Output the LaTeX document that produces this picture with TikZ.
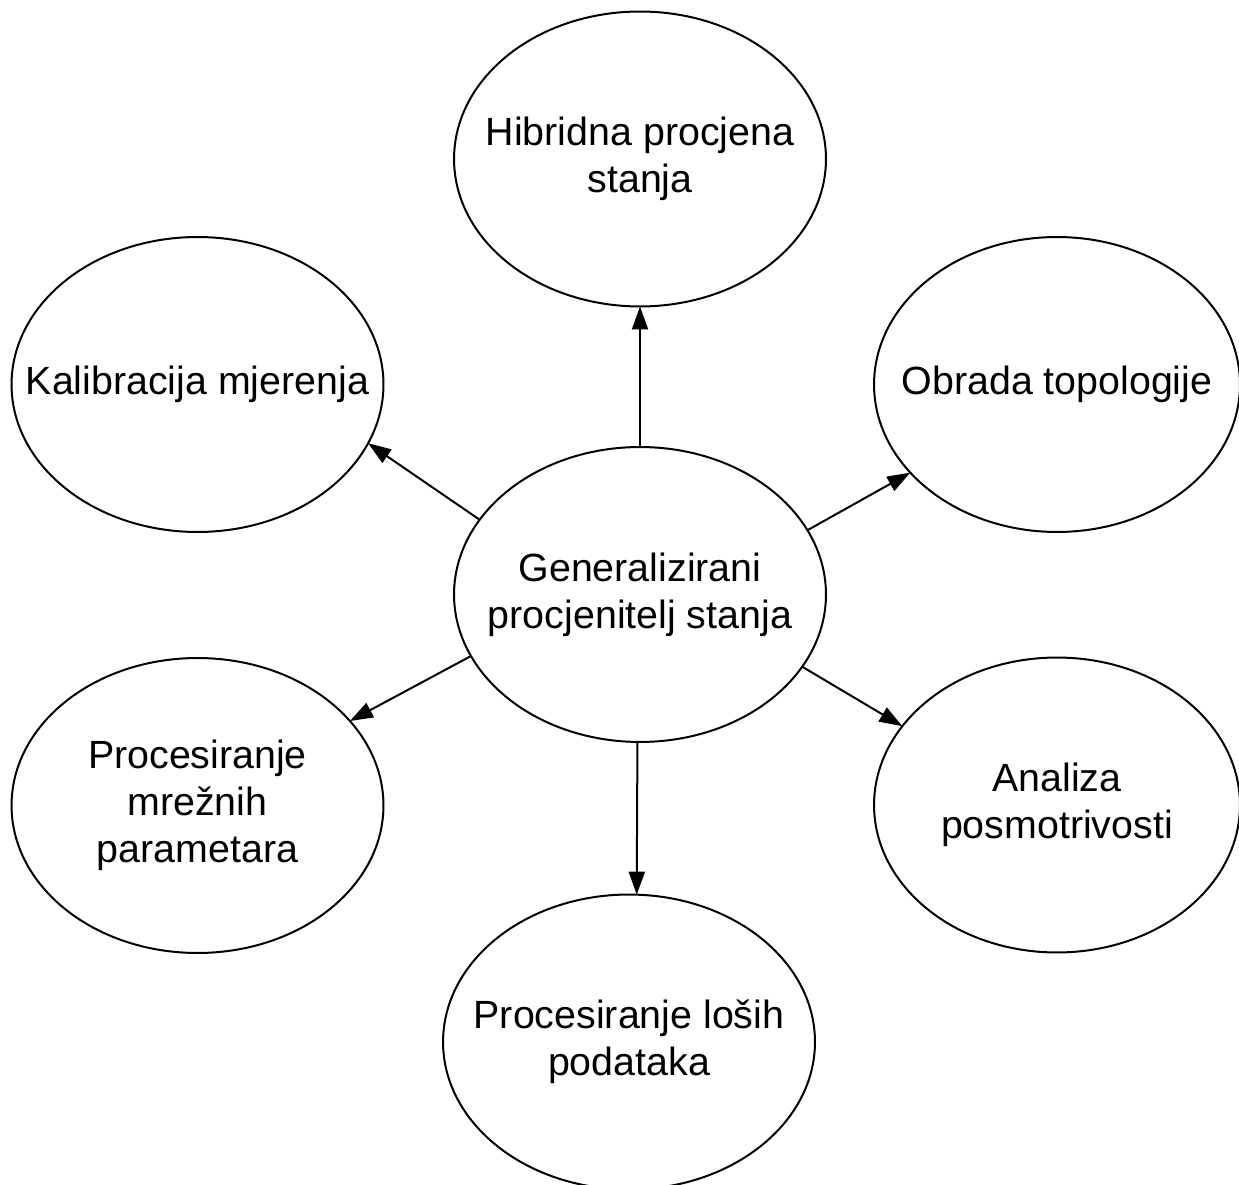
\documentclass[tikz,border=0pt]{standalone}
\usepackage{fontspec}
\setmainfont{Liberation Sans}
\usepackage{tikz}
\usetikzlibrary{arrows.meta,shapes,calc,positioning}
\tikzstyle{edge}  =[-{Triangle[length=0.46cm, width=0.32cm]},
                    line width=0.04cm]
\tikzstyle{task}  =[ellipse, draw, line width=0.04cm,
                    inner sep=0pt, outer sep=0pt]
\tikzstyle{txt}   =[inner sep=0pt, align=center,
                    font=\fontsize{22.4pt}{26.7pt}\selectfont]
\tikzstyle{wide}  =[minimum width=7.44cm, minimum height=5.9cm]
\tikzstyle{slim}  =[minimum width=7.32cm, minimum height=5.9cm]

\begin{document}
\begin{tikzpicture}[x=0.02cm, y=0.02cm]
            \useasboundingbox (0,0) rectangle (1239,1184);
            \clip (0,0) rectangle (1239,1184);
            \begin{scope}
                \node (gen) [task, wide, label={[txt]center:{Generalizirani\\procjenitelj stanja}}] at (640,589.5) {};
                \node (hib) [task, wide, label={[txt]center:{Hibridna procjena\\stanja}}] at (640,1025) {};
                \node (kal) [task, wide, label={[txt]center:{Kalibracija mjerenja}}] at (197.5,799.5) {};
                \node (obr) [task, slim, label={[txt]center:{Obrada topologije}}] at (1057,799.5) {};
                \node (mre) [task, wide, label={[txt]center:{Procesiranje\\mrežnih\\parametara}}] at (197.5,378.5) {};
                \node (ana) [task, slim, label={[txt]center:{Analiza\\posmotrivosti}}] at (1057,379) {};
                \node (los) [task, wide, label={[txt]center:{Procesiranje loših\\podataka}}] at (629,142) {};
                \draw [edge] (gen.north) to (hib.south);
                \draw [edge] (gen.155) to (kal.-19);
                \draw [edge] (gen.21) to (obr.211);
                \draw [edge] (gen.200) to (mre.29);
                \draw [edge] (gen.-24) to (ana.153);
                \draw [edge] (gen.269) to (los.87);
            \end{scope}
        \end{tikzpicture}
\end{document}
